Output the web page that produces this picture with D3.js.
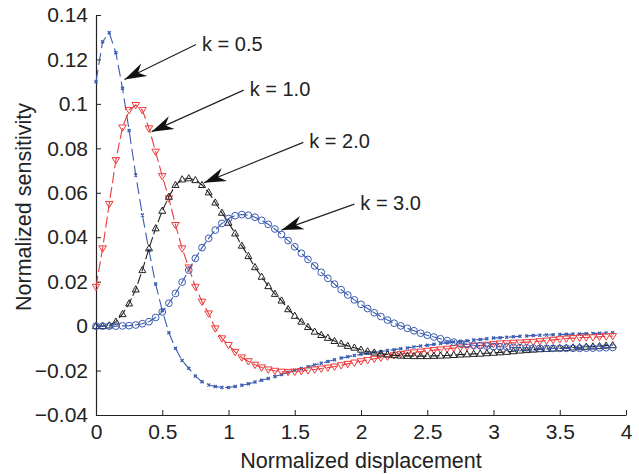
<!DOCTYPE html>
<html>
<head>
<meta charset="utf-8">
<script src="https://cdn.jsdelivr.net/npm/d3@7"></script>
<style>
  body { margin: 0; background: #fff; }
  svg { display: block; font-family: "Liberation Sans", Arial, sans-serif; }
  .axis path, .axis line { stroke: #222; }
  .axis text { font-size: 21px; fill: #222; }
  .title { font-size: 21.5px; fill: #222; }
  .note { font-size: 20px; fill: #222; }
</style>
</head>
<body>
<svg class="chart"></svg>
<script>
// sample grid (normalized displacement)
const xs = [0, 0.05, 0.1, 0.15, 0.2, 0.25, 0.3, 0.35, 0.4, 0.45, 0.5, 0.55, 0.6, 0.65, 0.7, 0.75,
  0.8, 0.85, 0.9, 0.95, 1.0, 1.05, 1.1, 1.15, 1.2, 1.25, 1.3, 1.35, 1.4, 1.45, 1.5, 1.55,
  1.6, 1.65, 1.7, 1.75, 1.8, 1.85, 1.9, 1.95, 2.0, 2.05, 2.1, 2.15, 2.2, 2.25, 2.3, 2.35,
  2.4, 2.45, 2.5, 2.55, 2.6, 2.65, 2.7, 2.75, 2.8, 2.85, 2.9, 2.95, 3.0, 3.05, 3.1, 3.15,
  3.2, 3.25, 3.3, 3.35, 3.4, 3.45, 3.5, 3.55, 3.6, 3.65, 3.7, 3.75, 3.8, 3.85, 3.9]

const k05 = [0.110, 0.128, 0.132, 0.123, 0.107, 0.088, 0.068, 0.050, 0.034, 0.019, 0.007, -0.003,
  -0.010, -0.0155, -0.019, -0.0225, -0.025, -0.0265, -0.0272, -0.0276, -0.0276, -0.0272, -0.0266,
  -0.0259, -0.0252, -0.0244, -0.0236, -0.0227, -0.0218, -0.0208, -0.0199, -0.0191, -0.0183, -0.0175,
  -0.0167, -0.0159, -0.0151, -0.0144, -0.0138, -0.0132, -0.0127, -0.0122, -0.0118, -0.0114, -0.0110,
  -0.0106, -0.0102, -0.0098, -0.0094, -0.0090, -0.0086, -0.0082, -0.0078, -0.0075, -0.0072, -0.0069,
  -0.0066, -0.0063, -0.0060, -0.0057, -0.0054, -0.0052, -0.0050, -0.0048, -0.0046, -0.0044, -0.0042,
  -0.0041, -0.0040, -0.0039, -0.0038, -0.0037, -0.0036, -0.0035, -0.0034, -0.0033, -0.0032, -0.0031, -0.0030]

const k10 = [0.0177, 0.035, 0.055, 0.0747, 0.0894, 0.0972, 0.0995, 0.0972, 0.089, 0.0785, 0.0675,
  0.0575, 0.0455, 0.035, 0.0264, 0.0177, 0.011, 0.0057, -0.001, -0.0055, -0.0085, -0.0116, -0.0141,
  -0.0158, -0.0174, -0.0186, -0.0195, -0.0201, -0.0205, -0.0206, -0.0205, -0.0202, -0.0199, -0.0195,
  -0.0191, -0.0187, -0.0182, -0.0176, -0.0170, -0.0164, -0.0158, -0.0153, -0.0147, -0.0142, -0.0137,
  -0.0131, -0.0126, -0.0122, -0.0118, -0.0115, -0.0111, -0.0108, -0.0105, -0.0102, -0.0099, -0.0096,
  -0.0093, -0.0090, -0.0087, -0.0084, -0.0081, -0.0078, -0.0077, -0.0075, -0.0074, -0.0072, -0.0071,
  -0.0068, -0.0065, -0.0062, -0.0059, -0.0056, -0.0054, -0.0052, -0.0051, -0.0050, -0.0048, -0.0046, -0.0045]

const k20 = [0, 0, 0.0003, 0.002, 0.0054, 0.0102, 0.0165, 0.0252, 0.035, 0.044, 0.0519, 0.0582, 0.0635,
  0.066, 0.0665, 0.0657, 0.0635, 0.0602, 0.0556, 0.051, 0.0465, 0.0417, 0.0362, 0.0315, 0.0265, 0.0222,
  0.018, 0.0145, 0.0115, 0.0076, 0.0046, 0.0020, -0.0004, -0.0025, -0.0040, -0.0053, -0.0067, -0.0079,
  -0.0089, -0.0097, -0.0106, -0.0114, -0.0119, -0.0124, -0.0128, -0.0131, -0.0133, -0.0134, -0.0135,
  -0.0135, -0.0135, -0.0134, -0.0133, -0.0132, -0.0130, -0.0128, -0.0127, -0.0125, -0.0124, -0.0122,
  -0.0120, -0.0118, -0.0116, -0.0113, -0.0110, -0.0108, -0.0106, -0.0104, -0.0103, -0.0101, -0.0100,
  -0.0098, -0.0096, -0.0095, -0.0093, -0.0092, -0.0090, -0.0088, -0.0086]

const k30 = [0, 0, 0, 0, 0.0001, 0.0002, 0.0005, 0.0011, 0.002, 0.0039, 0.0064, 0.0103, 0.0147, 0.0198,
  0.0252, 0.0305, 0.0353, 0.0395, 0.0432, 0.0462, 0.0484, 0.0497, 0.0502, 0.0499, 0.0490, 0.0476, 0.0458,
  0.0437, 0.0412, 0.0385, 0.0357, 0.0328, 0.0300, 0.0271, 0.0242, 0.0215, 0.0189, 0.0164, 0.0140, 0.0118,
  0.0098, 0.0079, 0.0060, 0.0043, 0.0027, 0.0013, 0.0001, -0.0010, -0.0021, -0.0032, -0.0041, -0.0049,
  -0.0057, -0.0065, -0.0072, -0.0078, -0.0082, -0.0086, -0.0088, -0.0090, -0.0092, -0.0093, -0.0095,
  -0.0096, -0.0097, -0.0098, -0.0099, -0.0100, -0.0100, -0.0100, -0.0100, -0.0100, -0.0100, -0.0100,
  -0.0099, -0.0099, -0.0098, -0.0097, -0.0096]

const xTicks = [0, 0.5, 1, 1.5, 2, 2.5, 3, 3.5, 4]
const yTicks = [-0.04, -0.02, 0, 0.02, 0.04, 0.06, 0.08, 0.1, 0.12, 0.14]

// label text, anchor point in data units, arrow tip in data units
const notes = [
  { text: 'k = 0.5', at: [0.8, 0.124], tip: [0.215, 0.111] },
  { text: 'k = 1.0', at: [1.16, 0.1035], tip: [0.42, 0.0875] },
  { text: 'k = 2.0', at: [1.61, 0.080], tip: [0.815, 0.0645] },
  { text: 'k = 3.0', at: [1.995, 0.0522], tip: [1.4, 0.0432] },
]

const series = [
  { values: k05, color: '#3a5bb0', marker: 'x', dash: '12,5' },
  { values: k10, color: '#ee3b3b', marker: 'tridown', dash: '11,4' },
  { values: k20, color: '#222222', marker: 'triup', dash: '10,3' },
  { values: k30, color: '#3a5bb0', marker: 'circle', dash: '10,3' },
]

const width = 639
const height = 474
const margin = { top: 15, right: 13, bottom: 59, left: 96 }

const chart = d3.select('.chart').attr('width', width).attr('height', height)

const xScale = d3.scaleLinear().domain([0, 4]).range([margin.left, width - margin.right])
const yScale = d3.scaleLinear().domain([-0.04, 0.14]).range([height - margin.bottom, margin.top])

const fmtY = d => (d < 0 ? '\u2212' + d3.format('')(-d) : d3.format('')(d))

chart.append('g').attr('class', 'axis')
  .attr('transform', `translate(0,${yScale(-0.04)})`)
  .call(d3.axisBottom(xScale).tickValues(xTicks).tickSizeInner(-5).tickSizeOuter(0).tickPadding(9).tickFormat(d3.format('')))
  .call(g => g.select('.domain').attr('stroke-width', 1.2))

chart.append('g').attr('class', 'axis')
  .attr('transform', `translate(${xScale(0)},0)`)
  .call(d3.axisLeft(yScale).tickValues(yTicks).tickSizeInner(-5).tickSizeOuter(0).tickPadding(8).tickFormat(fmtY))
  .call(g => g.select('.domain').attr('stroke-width', 1.2))

chart.selectAll('.axis text').attr('font-family', '"Liberation Sans", Arial, sans-serif')

chart.append('text').attr('class', 'title')
  .attr('x', xScale(2)).attr('y', height - 6)
  .attr('text-anchor', 'middle')
  .text('Normalized displacement')

chart.append('text').attr('class', 'title')
  .attr('transform', `translate(31,207) rotate(-90)`)
  .attr('text-anchor', 'middle')
  .text('Normalized sensitivity')

const line = d3.line()
  .x((d, i) => xScale(xs[i]))
  .y(d => yScale(d))

const markerPath = {
  x: 'M-1.5,-1.5L1.5,1.5M-1.5,1.5L1.5,-1.5',
  tridown: 'M-3.8,-2.5L3.8,-2.5L0,3.8Z',
  triup: 'M-3.5,2.5L3.5,2.5L0,-3.7Z',
  circle: d3.symbol(d3.symbolCircle, 36)(),
}

const plot = chart.append('g').attr('class', 'plot')

series.forEach(s => {
  const g = plot.append('g')
  g.append('path')
    .datum(s.values)
    .attr('fill', 'none')
    .attr('stroke', s.color)
    .attr('stroke-width', 1.1)
    .attr('stroke-dasharray', s.dash)
    .attr('d', line)
  g.selectAll('path.mk')
    .data(s.values)
    .enter()
    .append('path')
    .attr('class', 'mk')
    .attr('transform', (d, i) => `translate(${xScale(xs[i])},${yScale(d)})`)
    .attr('d', markerPath[s.marker])
    .attr('fill', 'none')
    .attr('stroke', s.color)
    .attr('stroke-width', s.marker === 'x' ? 1.4 : 1)
})

// annotations: label + arrow with swept-back head
const notesG = chart.append('g').attr('class', 'notes')
notes.forEach(n => {
  const x0 = xScale(n.at[0])
  const y0 = yScale(n.at[1])
  const x1 = xScale(n.tip[0])
  const y1 = yScale(n.tip[1])
  const sx = x0 - 6
  const sy = y0 - 6
  const ang = Math.atan2(y1 - sy, x1 - sx) * 180 / Math.PI
  notesG.append('line')
    .attr('x1', sx).attr('y1', sy)
    .attr('x2', x1).attr('y2', y1)
    .attr('stroke', '#222').attr('stroke-width', 1.2)
  notesG.append('path')
    .attr('transform', `translate(${x1},${y1}) rotate(${ang})`)
    .attr('d', 'M0,0L-22,-7L-15,0L-22,7Z')
    .attr('fill', '#111')
  notesG.append('text').attr('class', 'note')
    .attr('x', x0).attr('y', y0)
    .text(n.text)
})
</script>
</body>
</html>
